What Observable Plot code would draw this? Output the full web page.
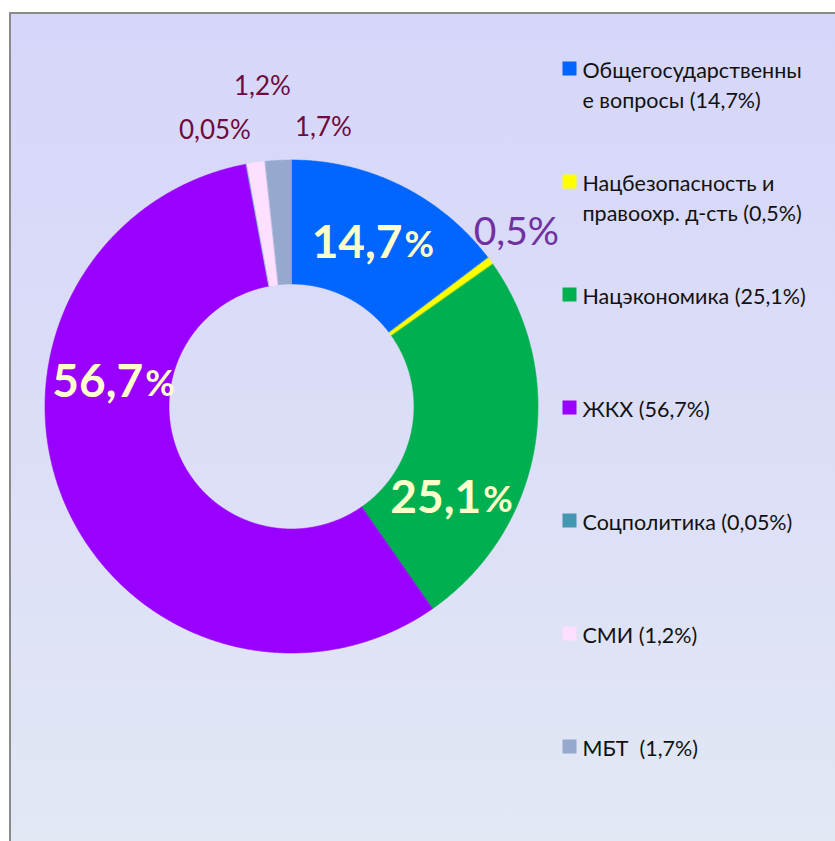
<!DOCTYPE html>
<html><head><meta charset="utf-8">
<script src="https://cdn.jsdelivr.net/npm/d3@7"></script>
<script src="https://cdn.jsdelivr.net/npm/@observablehq/plot@0.6"></script>
<style>
html,body{margin:0;padding:0;background:#fff;width:835px;height:841px;overflow:hidden;}
#frame{position:absolute;left:9px;top:12px;width:840px;height:840px;border-left:2px solid #8a8a8a;border-top:2px solid #8a8a8a;background:linear-gradient(to bottom,#d6d6fa 0%,#dcdef7 50%,#e2e8f4 100%);}
#chart{position:absolute;left:0;top:0;}
</style></head>
<body><div id="frame"></div><div id="chart"></div>
<script>
// ---- data ----
const categories = ["Общегосударственные вопросы","Нацбезопасность и правоохр. д-сть","Нацэкономика","ЖКХ","Соцполитика","СМИ","МБТ"];
const legendLabels = ["Общегосударственны\nе вопросы (14,7%)","Нацбезопасность и\nправоохр. д-сть (0,5%)","Нацэкономика (25,1%)","ЖКХ (56,7%)","Соцполитика (0,05%)","СМИ (1,2%)","МБТ  (1,7%)"];
const shares = [14.7, 0.5, 25.1, 56.7, 0.05, 1.2, 1.7];
const valueLabels = ["14,7","0,5","25,1","56,7","0,05","1,2","1,7"];
const colors = ["#0066ff","#ffff00","#00b050","#9900ff","#4397b0","#ffdfff","#95a9cf"];

// ---- layout ----
const R_OUT = 246.5, R_IN = 122.5;
const labelKind = ["big","out","big","big","small","small","small"];
const labelAngleShift = [0.5, -1.5, 19.7, 30.5, -5, 3.1, 9.6];
const labelRadius = [183, 284, 186, 178, 286, 321, 281];
const FONT = "Lato, 'Open Sans', sans-serif";

const arcs = d3.pie().sort(null).value(d => d)(shares);
const polar = (r, a) => [r * Math.sin(a), -r * Math.cos(a)];

const slicePts = [];
arcs.forEach((a, i) => {
  const n = Math.max(2, Math.ceil((a.endAngle - a.startAngle) / 0.005));
  for (let k = 0; k <= n; k++) {
    const t = a.startAngle + (a.endAngle - a.startAngle) * k / n;
    const [x, y] = polar(R_OUT, t);
    slicePts.push({i, x, y, color: colors[i]});
  }
  for (let k = n; k >= 0; k--) {
    const t = a.startAngle + (a.endAngle - a.startAngle) * k / n;
    const [x, y] = polar(R_IN, t);
    slicePts.push({i, x, y, color: colors[i]});
  }
});

const labels = arcs.map((a, i) => {
  const mid = (a.startAngle + a.endAngle) / 2 + labelAngleShift[i] * Math.PI / 180;
  const [x, y] = polar(labelRadius[i], mid);
  return {i, x, y, num: valueLabels[i], kind: labelKind[i]};
});
const big = labels.filter(d => d.kind === "big");
const others = labels.filter(d => d.kind !== "big");

const legend = categories.map((c, i) => ({
  i, color: colors[i], text: legendLabels[i],
  lines: legendLabels[i].split("\n").length,
  x: 569 - 291, y: 68 + 113 * i - 406
}));

const chart = Plot.plot({
  width: 835, height: 841, margin: 0,
  x: {domain: [-291, 544], range: [0, 835], axis: null},
  y: {domain: [-406, 435], range: [0, 841], axis: null},
  color: {type: "identity"},
  style: {background: "transparent", overflow: "visible", fontFamily: FONT},
  marks: [
    Plot.line(slicePts, {x: "x", y: "y", z: "i", fill: "color", stroke: "color", strokeWidth: 0.6, curve: "linear-closed"}),
    Plot.text(big, {x: "x", y: "y", text: "num", textAnchor: "end", dx: 28, fontSize: 46, fontWeight: "bold", fill: "#ffffcc", fontFamily: FONT}),
    Plot.text(big, {x: "x", y: "y", text: () => "%", textAnchor: "start", dx: 30, dy: 2, fontSize: 36, fontWeight: "bold", fill: "#ffffcc", fontFamily: FONT}),
    Plot.text(others, {x: "x", y: "y", text: d => d.num + "%", fontSize: d => d.kind === "out" ? 39 : 26, fill: d => d.kind === "out" ? "#7030a0" : "#6e0b3c", fontFamily: FONT}),
    Plot.dot(legend, {x: "x", y: "y", symbol: "square", r: 7.9, fill: "color", stroke: null}),
    Plot.text(legend, {x: d => d.x + 13, y: d => d.y + (d.lines - 1) * 15, text: "text", textAnchor: "start", lineAnchor: "middle", lineHeight: 1.4, fontSize: 21.5, fill: "#111", fontFamily: FONT})
  ]
});
document.getElementById("chart").appendChild(chart);
</script>
</body></html>
